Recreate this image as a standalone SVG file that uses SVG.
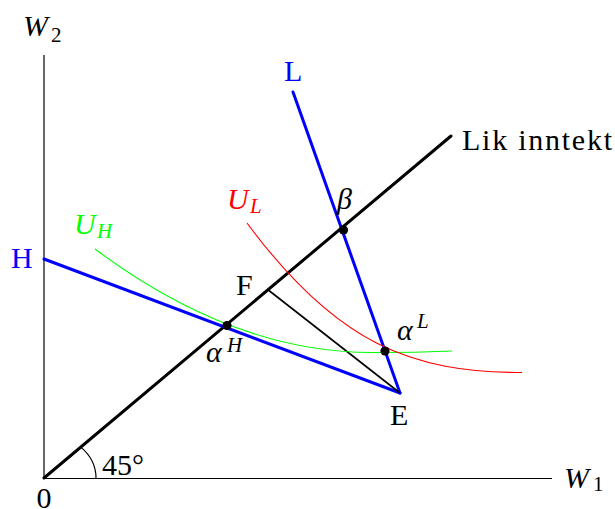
<svg xmlns="http://www.w3.org/2000/svg" width="615" height="509" viewBox="0 0 615 509">
<style>
text{font-family:"Liberation Serif","Times New Roman",serif;font-size:30px;fill:#000}
.it{font-style:italic}
.sub{font-size:21px}
.blue{fill:#0000ff}
.red{fill:#ff0000}
.green{fill:#00ff00}
.axis{stroke:#000;stroke-width:1.2;fill:none}
.thick{stroke-width:3;fill:none;stroke-linecap:round}
.dot{fill:#000}
</style>
<rect width="615" height="509" fill="#fff"/>
<g id="axes">
<line class="axis" x1="44" y1="478.5" x2="552" y2="478.5"/>
<line class="axis" x1="44" y1="478.5" x2="44" y2="55"/>
<path class="axis" d="M96,478 A52,43.7 0 0 0 80.8,447.1" stroke-width="1"/>
</g>
<g id="connectors">
<line id="lik-inntekt-line" class="thick" stroke="#000" x1="44" y1="478" x2="451" y2="136"/>
<line id="H-line" class="thick" stroke="#0000ff" x1="44" y1="259" x2="400" y2="393"/>
<line id="L-line" class="thick" stroke="#0000ff" x1="293" y1="92" x2="400" y2="393"/>
<line id="FE" stroke="#000" stroke-width="1.6" x1="268.3" y1="290" x2="400" y2="393"/>
<path id="UH-curve" d="M95,249 Q233.5,352.5 372,352.5 Q412,352.6 452,351" fill="none" stroke="#00ff00" stroke-width="1.1"/>
<path id="UL-curve" d="M247,223 C337,344.5 412,372.5 522,372.5" fill="none" stroke="#ff0000" stroke-width="1.1"/>
</g>
<g id="node-alphaH"><circle class="dot" cx="227" cy="325.5" r="4.6"/><text class="it" x="206" y="362">α</text><text class="it sub" x="227" y="352">H</text></g>
<g id="node-beta"><circle class="dot" cx="343.5" cy="230" r="4.6"/><text class="it" x="337" y="209">β</text></g>
<g id="node-alphaL"><circle class="dot" cx="385" cy="351" r="4.6"/><text class="it" x="397" y="340">α</text><text class="it sub" x="417" y="328">L</text></g>
<g id="node-E"><text x="390" y="425">E</text></g>
<g id="node-F"><text x="236" y="295">F</text></g>
<g id="labels">
<text class="it" x="23" y="36">W</text><text class="sub" x="51" y="42">2</text>
<text class="it" x="564" y="488">W</text><text class="sub" x="593" y="491">1</text>
<text x="44" y="508" text-anchor="middle">0</text>
<text x="102" y="475">45°</text>
<text class="blue" x="11" y="268">H</text>
<text class="blue" x="284" y="81">L</text>
<text x="462" y="150" textLength="150" lengthAdjust="spacing">Lik inntekt</text>
<text class="it green" x="74" y="234">U</text><text class="it sub green" x="97" y="238">H</text>
<text class="it red" x="227" y="209">U</text><text class="it sub red" x="250" y="213">L</text>
</g>
</svg>
